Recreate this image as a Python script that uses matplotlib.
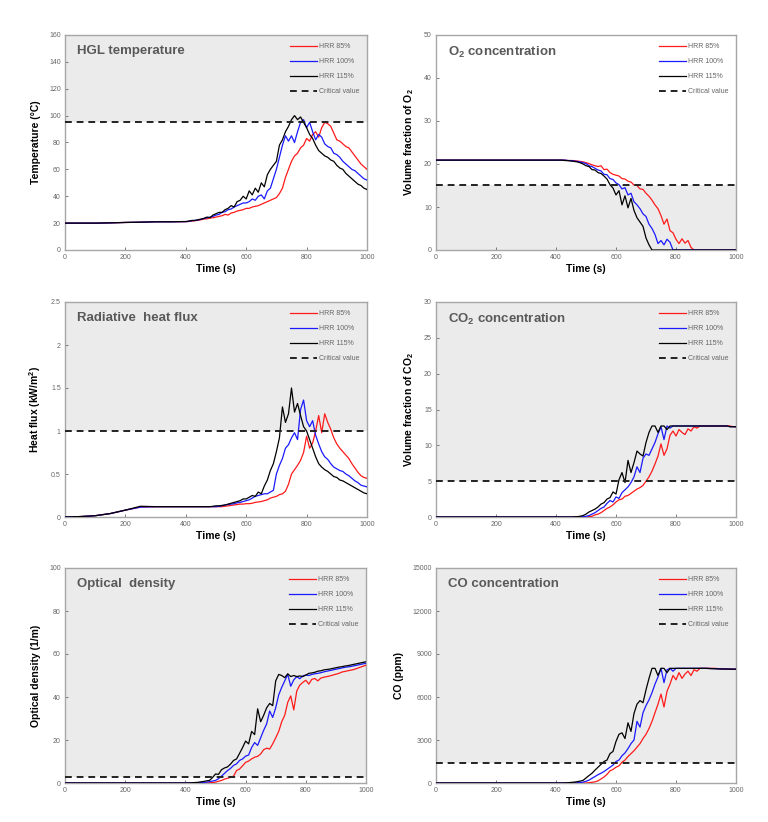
import matplotlib
matplotlib.use("Agg")
import matplotlib.pyplot as plt
from matplotlib.lines import Line2D
from matplotlib.ticker import FuncFormatter

# ---------------- data ----------------
time_s = [0, 50, 100, 150, 200, 250, 300, 350, 400] + list(range(410, 1001, 10))
series_labels = ["HRR 85%", "HRR 100%", "HRR 115%"]
x_ticks = [0, 200, 400, 600, 800, 1000]

# HGL temperature (deg C)
hgl_85 = [20, 20, 20, 20.2, 20.5, 20.7, 21, 21, 21.1,
          21.2, 21.5, 21.8, 22, 22.5, 23, 23.2, 23.8, 24, 24.5,
          25, 25.5, 26.5, 26, 27.5, 28, 29, 29.5, 30, 31,
          31, 32, 32.5, 33, 34, 35, 36, 37, 38, 39,
          42, 46, 54, 60, 66, 70, 72, 76, 78, 83,
          81, 86, 88, 84, 91, 95, 94, 92, 87, 82,
          81, 79, 77, 76, 73, 70, 67, 64, 62, 60]
hgl_100 = [20, 20, 20, 20.2, 20.5, 20.7, 21, 21, 21.1,
           21.3, 21.8, 22, 22.3, 22.8, 23.5, 24, 24.5, 25, 26,
           26.5, 28, 28.5, 30, 30.5, 32, 33, 34, 35, 35,
           36, 38, 37, 40, 41, 38, 44, 46, 53, 60,
           69, 78, 85, 81, 85, 80, 88, 95, 97, 91,
           95, 88, 82, 86, 84, 79, 77, 76, 72, 71,
           69, 66, 64, 62, 60, 59, 57, 55, 53, 52]
hgl_115 = [20, 20, 20, 20.2, 20.5, 20.7, 21, 21, 21.2,
           21.5, 22, 22, 22.5, 23, 23.5, 24.5, 24, 26, 27,
           28, 28, 30, 31, 33, 32, 36, 37, 40, 38,
           44, 41, 46, 43, 50, 47, 56, 60, 63, 66,
           78, 82, 88, 92, 97, 100, 97, 99, 95, 91,
           86, 83, 78, 74, 72, 70, 69, 67, 66, 63,
           61, 60, 57, 55, 53, 51, 49, 48, 46, 45]

# O2 volume fraction (%)
o2_85 = [20.9] * 9 + [
    20.9, 20.9, 20.9, 20.8, 20.8, 20.8, 20.7, 20.6, 20.5, 20.3,
    20.1, 19.8, 19.6, 19.4, 19.6, 18.7, 18.8, 18.0, 17.6, 17.4,
    17.2, 16.6, 16.5, 16.0, 15.8, 15.1, 15.0, 14.2, 14.1, 13.2,
    12.5, 11.6, 10.5, 9.6, 8.0, 6.0, 7.2, 4.5, 4.0, 2.5,
    1.5, 2.6, 1.6, 2.2, 0.6, 0, 0, 0, 0, 0,
    0, 0, 0, 0, 0, 0, 0, 0, 0, 0]
o2_100 = [20.9] * 9 + [
    20.9, 20.9, 20.9, 20.8, 20.8, 20.7, 20.6, 20.5, 20.3, 20.1,
    19.6, 19.4, 19.0, 18.6, 18.4, 17.6, 17.5, 16.6, 16.4, 15.6,
    15.2, 14.2, 14.5, 12.8, 13.2, 11.2, 10.5, 9.6, 8.4, 7.8,
    6.0, 5.0, 3.6, 1.5, 2.2, 1.2, 2.5, 1.8, 0, 0,
    0, 0, 0, 0, 0, 0, 0, 0, 0, 0,
    0, 0, 0, 0, 0, 0, 0, 0, 0, 0]
o2_115 = [20.9] * 9 + [
    20.9, 20.9, 20.8, 20.8, 20.7, 20.6, 20.5, 20.3, 20.0, 19.6,
    19.4, 18.7, 18.6, 18.0, 17.8, 17.2, 16.5, 15.2, 14.4, 12.8,
    13.8, 10.5, 12.6, 9.8, 12.0, 9.2, 7.5, 6.5, 5.5, 2.8,
    1.2, 0, 0, 0, 0, 0, 0, 0, 0, 0,
    0, 0, 0, 0, 0, 0, 0, 0, 0, 0,
    0, 0, 0, 0, 0, 0, 0, 0, 0, 0]

# Radiative heat flux (kW/m2)
rad_85 = [0, 0.005, 0.015, 0.04, 0.08, 0.115, 0.12, 0.12, 0.12,
          0.12, 0.12, 0.12, 0.12, 0.12, 0.12, 0.12, 0.12, 0.12, 0.12,
          0.12, 0.12, 0.125, 0.13, 0.135, 0.14, 0.145, 0.15, 0.15, 0.155,
          0.155, 0.16, 0.17, 0.175, 0.18, 0.19, 0.2, 0.22, 0.23, 0.24,
          0.26, 0.27, 0.3, 0.38, 0.5, 0.55, 0.6, 0.66, 0.75, 0.94,
          0.8, 0.86, 1.0, 1.18, 0.98, 1.2, 1.1, 1.02, 0.92, 0.85,
          0.8, 0.76, 0.72, 0.68, 0.62, 0.57, 0.52, 0.48, 0.46, 0.45]
rad_100 = [0, 0.005, 0.015, 0.04, 0.08, 0.115, 0.12, 0.12, 0.12,
           0.12, 0.12, 0.12, 0.12, 0.12, 0.12, 0.12, 0.12, 0.12, 0.12,
           0.125, 0.13, 0.14, 0.145, 0.15, 0.155, 0.165, 0.17, 0.18, 0.19,
           0.2, 0.22, 0.24, 0.25, 0.26, 0.27, 0.27, 0.29, 0.31, 0.5,
           0.6, 0.68, 0.8, 0.84, 0.92, 0.98, 0.9, 1.25, 1.36, 1.12,
           1.05, 1.12, 0.95, 0.85, 0.76, 0.7, 0.67, 0.62, 0.58, 0.56,
           0.54, 0.53, 0.5, 0.48, 0.45, 0.42, 0.4, 0.37, 0.36, 0.35]
rad_115 = [0, 0.005, 0.015, 0.04, 0.08, 0.125, 0.12, 0.12, 0.12,
           0.12, 0.12, 0.12, 0.12, 0.12, 0.12, 0.12, 0.12, 0.125, 0.13,
           0.13, 0.135, 0.14, 0.15, 0.16, 0.17, 0.18, 0.19, 0.21, 0.21,
           0.23, 0.25, 0.24, 0.29, 0.27, 0.36, 0.43, 0.54, 0.62, 0.76,
           0.92, 1.28, 1.1, 1.2, 1.5, 1.22, 1.32, 1.18, 1.05, 1.0,
           0.9, 0.8, 0.7, 0.62, 0.58, 0.55, 0.53, 0.5, 0.47, 0.46,
           0.43, 0.42, 0.4, 0.38, 0.36, 0.34, 0.32, 0.3, 0.28, 0.27]

# CO2 volume fraction (%)
co2_85 = [0] * 9 + [
    0, 0, 0, 0, 0, 0, 0, 0, 0, 0,
    0.05, 0.1, 0.3, 0.4, 0.6, 0.9, 1.2, 1.4, 1.7, 2.1,
    2.4, 2.5, 2.9, 3.0, 3.3, 3.6, 3.9, 4.1, 4.4, 5.0,
    5.6, 6.4, 7.4, 8.5, 10.2, 8.6, 9.5, 11.4, 12.0, 11.3,
    12.2, 11.8, 11.5, 12.3, 12.0, 12.6, 12.4, 12.7, 12.7, 12.7,
    12.7, 12.7, 12.7, 12.7, 12.7, 12.7, 12.7, 12.7, 12.6, 12.6]
co2_100 = [0] * 9 + [
    0, 0, 0, 0, 0, 0, 0, 0, 0.05, 0.1,
    0.2, 0.4, 0.6, 0.9, 1.2, 1.4, 1.9, 2.3, 2.1, 2.8,
    2.6, 3.4, 3.8, 4.2, 4.8, 5.6, 7.0, 6.2, 8.2, 8.8,
    8.6, 9.5, 10.4, 11.6, 12.6, 10.8, 12.7, 12.4, 12.7, 12.7,
    12.7, 12.7, 12.7, 12.7, 12.7, 12.7, 12.7, 12.7, 12.7, 12.7,
    12.7, 12.7, 12.7, 12.7, 12.7, 12.7, 12.7, 12.6, 12.6, 12.6]
co2_115 = [0] * 9 + [
    0, 0, 0, 0, 0, 0.02, 0.05, 0.1, 0.2, 0.4,
    0.7, 0.9, 1.1, 1.4, 1.8, 2.0, 2.5, 2.7, 3.5, 3.2,
    5.2, 6.2, 4.8, 7.9, 6.2, 7.6, 9.2, 8.8, 8.5, 10.4,
    11.8, 12.7, 12.7, 11.8, 12.7, 12.7, 12.2, 12.7, 12.7, 12.7,
    12.7, 12.7, 12.7, 12.7, 12.7, 12.7, 12.7, 12.7, 12.7, 12.7,
    12.7, 12.7, 12.7, 12.7, 12.7, 12.7, 12.7, 12.6, 12.6, 12.6]

# Optical density (1/m)
od_85 = [0] * 9 + [
    0, 0, 0, 0, 0, 0, 0, 0.1, 0.2, 0.4,
    0.8, 1.2, 1.8, 2.2, 2.6, 3.2, 5.8, 6.5, 8.0, 9.6,
    10.2, 11.2, 12.0, 12.4, 13.5, 15.5, 16.2, 15.8, 18.2, 21.0,
    24.0, 28.5, 31.5, 37.5, 40.5, 34.0, 42.8, 45.5, 46.8, 47.8,
    46.0, 48.2, 48.6, 47.5, 48.8, 49.2, 49.5, 49.8, 50.2, 50.6,
    51.0, 51.6, 51.9, 52.2, 52.5, 52.8, 53.3, 53.8, 54.3, 54.8]
od_100 = [0] * 9 + [
    0, 0, 0.1, 0.1, 0.2, 0.3, 0.4, 0.6, 0.9, 1.2,
    2.0, 3.2, 4.5, 5.8, 6.8, 8.2, 8.9, 10.5, 11.2, 12.5,
    13.0, 16.5, 18.8, 17.5, 21.0, 24.5, 27.5, 33.5, 30.5, 35.0,
    41.0, 44.5, 47.5, 50.5, 45.0, 48.0, 49.5, 48.5, 49.8, 50.2,
    50.0, 50.5, 50.8, 51.0, 51.3, 51.7, 52.0, 52.3, 52.6, 52.9,
    53.2, 53.5, 53.8, 54.0, 54.2, 54.5, 54.8, 55.1, 55.4, 55.7]
od_115 = [0] * 9 + [
    0, 0.1, 0.2, 0.3, 0.5, 0.7, 1.0, 1.2, 2.5, 4.2,
    4.0, 6.2, 7.0, 7.5, 8.8, 10.5, 11.2, 13.8, 16.5, 19.5,
    18.2, 24.0, 22.5, 34.5, 28.5, 31.5, 35.0, 37.0, 36.0, 47.5,
    50.5, 50.0, 49.0, 50.8, 49.5, 50.0, 49.5, 49.8, 49.5, 50.2,
    51.0, 51.2, 51.5, 52.0, 52.2, 52.6, 52.8, 53.0, 53.3, 53.6,
    53.9, 54.1, 54.4, 54.6, 54.9, 55.2, 55.5, 55.8, 56.1, 56.4]

# CO concentration (ppm)
co_85 = [0] * 9 + [
    0, 0, 0, 0, 0, 0, 0, 0, 0, 0,
    20, 50, 80, 150, 280, 420, 600, 850, 950, 1100,
    1200, 1450, 1600, 1850, 2050, 2250, 2500, 2750, 3100, 3400,
    3800, 4300, 4900, 5500, 6200, 5300, 6400, 6900, 7500, 7200,
    7700, 7300, 7600, 7800, 7500, 7900, 7800, 8000, 8000, 8000,
    8000, 8000, 8000, 7980, 7980, 7970, 7960, 7950, 7950, 7950]
co_100 = [0] * 9 + [
    0, 0, 0, 0, 0, 0, 10, 30, 60, 120,
    200, 330, 450, 580, 680, 800, 950, 1100, 1250, 1500,
    1600, 1900, 2100, 2400, 2750, 3000, 4300, 3900, 4900, 5400,
    5800, 6300, 6900, 7400, 8000, 7000, 7900, 8000, 7800, 8000,
    8000, 8000, 8000, 8000, 8000, 8000, 8000, 8000, 8000, 8000,
    8000, 7980, 7980, 7970, 7960, 7950, 7950, 7950, 7940, 7940]
co_115 = [0] * 9 + [
    0, 0, 10, 20, 40, 60, 90, 130, 180, 350,
    520, 680, 900, 1100, 1300, 1500, 1600, 2050, 2200, 2900,
    3400, 3500, 3100, 4200, 3600, 4850, 5500, 5750, 5600, 6500,
    7300, 8000, 8000, 7500, 8000, 8000, 7700, 8000, 8000, 8000,
    8000, 8000, 8000, 8000, 8000, 8000, 8000, 8000, 8000, 8000,
    7980, 7980, 7970, 7960, 7950, 7950, 7950, 7940, 7940, 7940]

critical = {"hgl": 95, "o2": 15, "rad": 1.0, "co2": 5, "od": 3, "co": 1400}

# ---------------- figure ----------------
plt.rcParams["font.family"] = ["Liberation Sans", "DejaVu Sans"]
plt.rcParams["mathtext.fontset"] = "custom"
plt.rcParams["mathtext.rm"] = "Liberation Sans"
plt.rcParams["mathtext.bf"] = "Liberation Sans:bold"
plt.rcParams["mathtext.default"] = "regular"

fig = plt.figure(figsize=(7.68, 8.22), dpi=100)
W, H = 768, 822

def make_ax(left, top, right, bottom):
    return fig.add_axes([left / W, 1 - bottom / H, (right - left) / W, (bottom - top) / H])

colors = ["#ff1a1a", "#1a1aff", "#000000"]
shade = "#ebebeb"
spine_c = "#a6a6a6"
tick_c = "#666666"

panels = [
    dict(box=(65, 35, 367, 250), series=(hgl_85, hgl_100, hgl_115), ymax=160,
         yticks=[0, 20, 40, 60, 80, 100, 120, 140, 160], crit=critical["hgl"], above=True,
         title="HGL temperature", ylabel="Temperature (°C)"),
    dict(box=(436, 35, 736, 250), series=(o2_85, o2_100, o2_115), ymax=50,
         yticks=[0, 10, 20, 30, 40, 50], crit=critical["o2"], above=False,
         title="O$_\\mathbf{2}$ concentration", ylabel="Volume fraction of O$_\\mathbf{2}$"),
    dict(box=(65, 302, 367, 517), series=(rad_85, rad_100, rad_115), ymax=2.5,
         yticks=[0, 0.5, 1, 1.5, 2, 2.5], crit=critical["rad"], above=True,
         title="Radiative  heat flux", ylabel="Heat flux (kW/m$^\\mathbf{2}$)"),
    dict(box=(436, 302, 736, 517), series=(co2_85, co2_100, co2_115), ymax=30,
         yticks=[0, 5, 10, 15, 20, 25, 30], crit=critical["co2"], above=True,
         title="CO$_\\mathbf{2}$ concentration", ylabel="Volume fraction of CO$_\\mathbf{2}$"),
    dict(box=(65, 568, 366, 783), series=(od_85, od_100, od_115), ymax=100,
         yticks=[0, 20, 40, 60, 80, 100], crit=critical["od"], above=True,
         title="Optical  density", ylabel="Optical density (1/m)"),
    dict(box=(436, 568, 736, 783), series=(co_85, co_100, co_115), ymax=15000,
         yticks=[0, 3000, 6000, 9000, 12000, 15000], crit=critical["co"], above=True,
         title="CO concentration", ylabel="CO (ppm)"),
]

for p in panels:
    ax = make_ax(*p["box"])
    ax.set_xlim(0, 1000)
    ax.set_ylim(0, p["ymax"])
    if p["above"]:
        ax.axhspan(p["crit"], p["ymax"], color=shade, zorder=0, lw=0)
    else:
        ax.axhspan(0, p["crit"], color=shade, zorder=0, lw=0)
    for s, c in zip(p["series"], colors):
        ax.plot(time_s, s, color=c, lw=0.9, zorder=3)
    ax.axhline(p["crit"], color="#222222", lw=1.4, ls=(0, (3.5, 2.5)), zorder=4)

    ax.set_xticks(x_ticks)
    ax.set_yticks(p["yticks"])
    ax.yaxis.set_major_formatter(FuncFormatter(lambda v, pos: f"{v:g}"))
    ax.tick_params(labelsize=5, colors=tick_c, length=2, width=0.6, direction="in", pad=3)
    for sp in ax.spines.values():
        sp.set_color(spine_c)
        sp.set_linewidth(1.0)

    ax.set_xlabel("Time (s)", fontsize=7.5, fontweight="bold", labelpad=2)
    ax.set_ylabel(p["ylabel"], fontsize=7.5, fontweight="bold", labelpad=6)
    ax.text(0.04, 0.955, p["title"], transform=ax.transAxes, fontsize=9.5,
            fontweight="bold", color="#595959", va="top", ha="left", zorder=5)

    handles = [Line2D([], [], color=c, lw=0.9) for c in colors]
    handles.append(Line2D([], [], color="#222222", lw=1.4, ls=(0, (3.5, 2.5))))
    leg = ax.legend(handles, series_labels + ["Critical value"], loc="upper right",
                    bbox_to_anchor=(0.99, 0.985), frameon=False, fontsize=5,
                    handlelength=3.8, handletextpad=0.3, labelspacing=1.15,
                    borderaxespad=0.3)
    for t in leg.get_texts():
        t.set_color(tick_c)

fig.savefig("out.png", dpi=100, facecolor="white")
